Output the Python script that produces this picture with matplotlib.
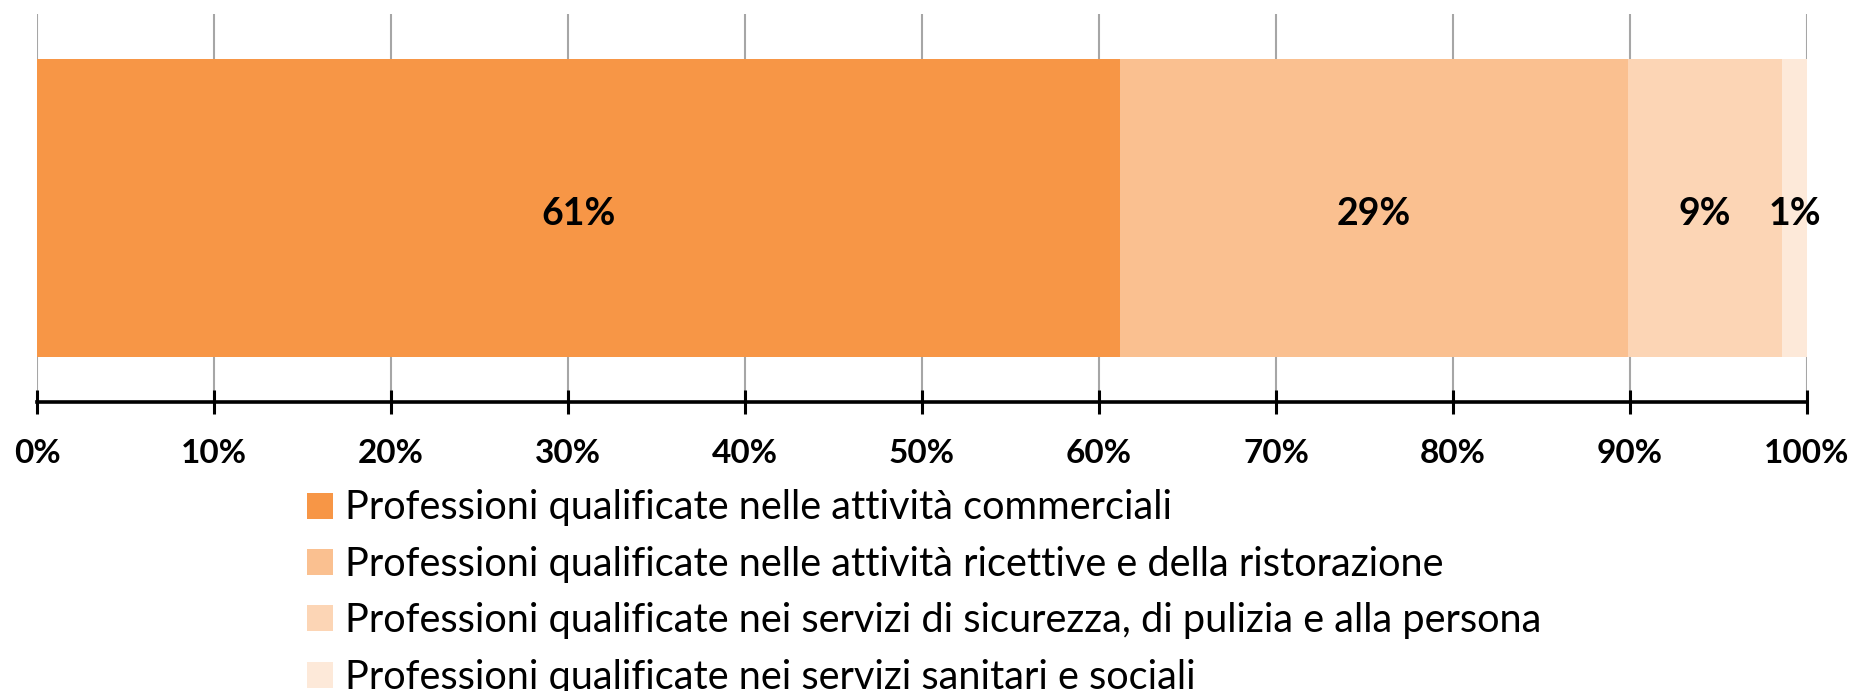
import matplotlib
matplotlib.use("Agg")
import matplotlib.pyplot as plt
from matplotlib.patches import Patch

plt.rcParams['font.family'] = ['Lato', 'DejaVu Sans']

categories = [
    "Professioni qualificate nelle attività commerciali",
    "Professioni qualificate nelle attività ricettive e della ristorazione",
    "Professioni qualificate nei servizi di sicurezza, di pulizia e alla persona",
    "Professioni qualificate nei servizi sanitari e sociali",
]
values = [61.2, 28.7, 8.7, 1.4]
labels = ["61%", "29%", "9%", "1%"]
colors = ["#F79646", "#FAC090", "#FCD5B5", "#FDE9D9"]
xticks = [0, 10, 20, 30, 40, 50, 60, 70, 80, 90, 100]
xticklabels = [f"{t}%" for t in xticks]

W, H = 1854, 691
fig = plt.figure(figsize=(W / 100, H / 100), dpi=100)
ax = fig.add_axes([37 / W, 1 - 402 / H, (1807 - 37) / W, (402 - 14) / H])

left = 0
for v, lab, c in zip(values, labels, colors):
    ax.barh(0, v, left=left, height=0.766, color=c, zorder=2)
    ax.text(left + v / 2, -0.015, lab, ha='center', va='center',
            fontsize=27, fontweight='bold', color='black', zorder=3)
    left += v

ax.set_xlim(0, 100)
ax.set_ylim(-0.5, 0.5)
ax.set_yticks([])
ax.set_xticks(xticks)
ax.set_xticklabels(xticklabels, fontsize=24, fontweight='bold')
ax.xaxis.grid(True, color='#A6A6A6', linewidth=1.5, zorder=0)
ax.set_axisbelow(True)
for s in ['top', 'right', 'left']:
    ax.spines[s].set_visible(False)
ax.spines['bottom'].set_linewidth(2.6)
ax.spines['bottom'].set_color('black')
ax.tick_params(axis='x', direction='inout', length=17, width=2.2, pad=18, colors='black')

fs = 28.6
fs_px = fs * 100 / 72
handles = [Patch(facecolor=c, edgecolor='none') for c in colors]
fig.legend(handles, categories, loc='upper left',
           bbox_to_anchor=(307 / W, 1 - 489.5 / H), frameon=False,
           fontsize=fs, handlelength=25.6 / fs_px, handleheight=25 / fs_px,
           handletextpad=12.7 / fs_px, labelspacing=0.49, borderpad=0, borderaxespad=0)

fig.savefig("out.png", dpi=100)
